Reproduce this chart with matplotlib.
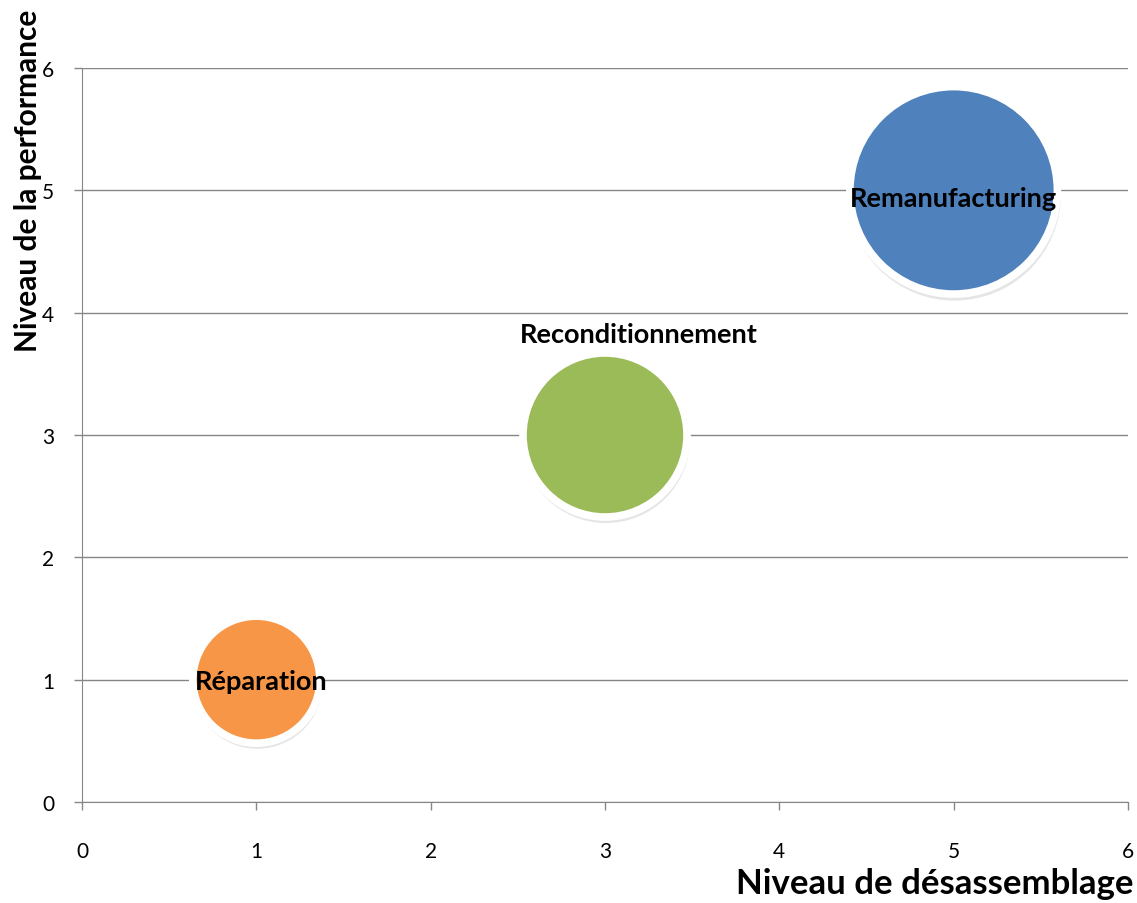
import matplotlib
matplotlib.use("Agg")
import matplotlib.pyplot as plt

labels = ["Réparation", "Reconditionnement", "Remanufacturing"]
x_vals = [1, 3, 5]
y_vals = [1, 3, 5]
sizes = [3, 5, 8]
colors = ["#F79646", "#9BBB59", "#4F81BD"]
ticks = [0, 1, 2, 3, 4, 5, 6]

plt.rcParams['font.family'] = ['Lato', 'DejaVu Sans']

fig = plt.figure(figsize=(11.37, 9.04), dpi=100)
ax = fig.add_axes([82/1137, 1-803/904, (1128-82)/1137, (803-69)/904])

scale = 2790
s = [v * scale for v in sizes]
# shadow
ax.scatter(x_vals, y_vals, s=[v * 1.05 for v in s], color="#000000", alpha=0.10,
           linewidths=0, zorder=2,
           transform=ax.transData + matplotlib.transforms.ScaledTranslation(1/100, -4/100, fig.dpi_scale_trans))
ax.scatter(x_vals, y_vals, s=s, c=colors, edgecolors="white", linewidths=5.5, zorder=3)

offsets = [(5, -1), (34, 101), (0, -8)]
for lab, xv, yv, off in zip(labels, x_vals, y_vals, offsets):
    ax.annotate(lab, (xv, yv), xytext=off, textcoords='offset pixels',
                ha='center', va='center', fontsize=19.5, fontweight='bold',
                color='black', zorder=5)

ax.set_xlim(0, 6)
ax.set_ylim(0, 6)
ax.set_xticks(ticks)
ax.set_yticks(ticks)
ax.set_xticklabels([str(t) for t in ticks], fontsize=15)
ax.set_yticklabels([str(t) for t in ticks], fontsize=15)
ax.grid(axis='y', color='#868686', linewidth=1)
ax.set_axisbelow(True)
for sp in ['top', 'right']:
    ax.spines[sp].set_visible(False)
for sp in ['left', 'bottom']:
    ax.spines[sp].set_color('#868686')
ax.tick_params(axis='both', direction='out', length=6, color='#868686', width=1)
ax.tick_params(axis='x', pad=22)
ax.tick_params(axis='y', pad=14)

ax.set_xlabel("Niveau de désassemblage", fontsize=25, fontweight='bold')
ax.xaxis.set_label_coords(1.005, -0.088)
ax.xaxis.label.set_ha('right')
ax.set_ylabel("Niveau de la performance", fontsize=21.5, fontweight='bold')
ax.yaxis.set_label_coords(-0.052, 0.847)
ax.yaxis.label.set_va('center')

fig.savefig("out.png", dpi=100)
